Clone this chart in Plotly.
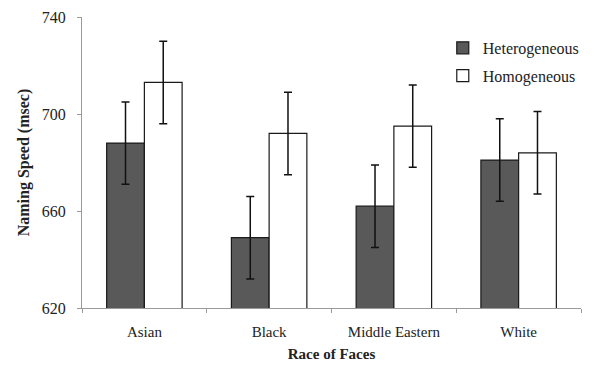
import plotly.graph_objects as go

categories = ["Asian", "Black", "Middle Eastern", "White"]
hetero = [688, 649, 662, 681]
homo = [713, 692, 695, 684]
hetero_err = [17, 17, 17, 17]
homo_err = [17, 17, 17, 17]
y_ticks = [620, 660, 700, 740]

FONT = "Liberation Serif"

fig = go.Figure()
fig.add_trace(go.Bar(
    name="Heterogeneous", x=categories, y=hetero, legendgroup="het",
    marker=dict(color="#595959", line=dict(color="#1a1a1a", width=1.2)),
    error_y=dict(type="data", array=hetero_err, color="#111111", thickness=1.5, width=4),
))
fig.add_trace(go.Bar(
    name="Homogeneous", x=categories, y=homo, legendgroup="hom",
    marker=dict(color="#ffffff", line=dict(color="#1a1a1a", width=1.2)),
    error_y=dict(type="data", array=homo_err, color="#111111", thickness=1.5, width=4),
))

fig.update_layout(
    width=607, height=369,
    margin=dict(l=74, r=34, t=9, b=69, autoexpand=False),
    paper_bgcolor="white", plot_bgcolor="white",
    barmode="group", bargap=0.395, bargroupgap=0,
    font=dict(family=FONT, color="#222222", size=15),
    legend=dict(x=0.723, y=0.952, xanchor="left", yanchor="top",
                font=dict(size=16, family=FONT), bgcolor="rgba(0,0,0,0)",
                traceorder="grouped", tracegroupgap=4, itemwidth=30),
    showlegend=True,
)
fig.update_yaxes(
    range=[620, 740], tickvals=y_ticks, showgrid=False, zeroline=False,
    showline=True, linecolor="#9a9a9a", linewidth=1.2,
    ticks="outside", ticklen=4, tickcolor="#9a9a9a", ticklabelstandoff=8,
    tickfont=dict(size=16, family=FONT),
    title=dict(text="<b>Naming Speed (msec)</b>", font=dict(size=16, family=FONT), standoff=8),
)
fig.update_xaxes(
    showgrid=False, showline=True, linecolor="#9a9a9a", linewidth=1.2,
    ticks="outside", ticklen=4, tickcolor="#9a9a9a", tickson="boundaries",
    ticklabelstandoff=10,
    tickfont=dict(size=15, family=FONT),
    title=dict(text="<b>Race of Faces</b>", font=dict(size=15, family=FONT), standoff=9),
)

fig.write_html("out.html")
